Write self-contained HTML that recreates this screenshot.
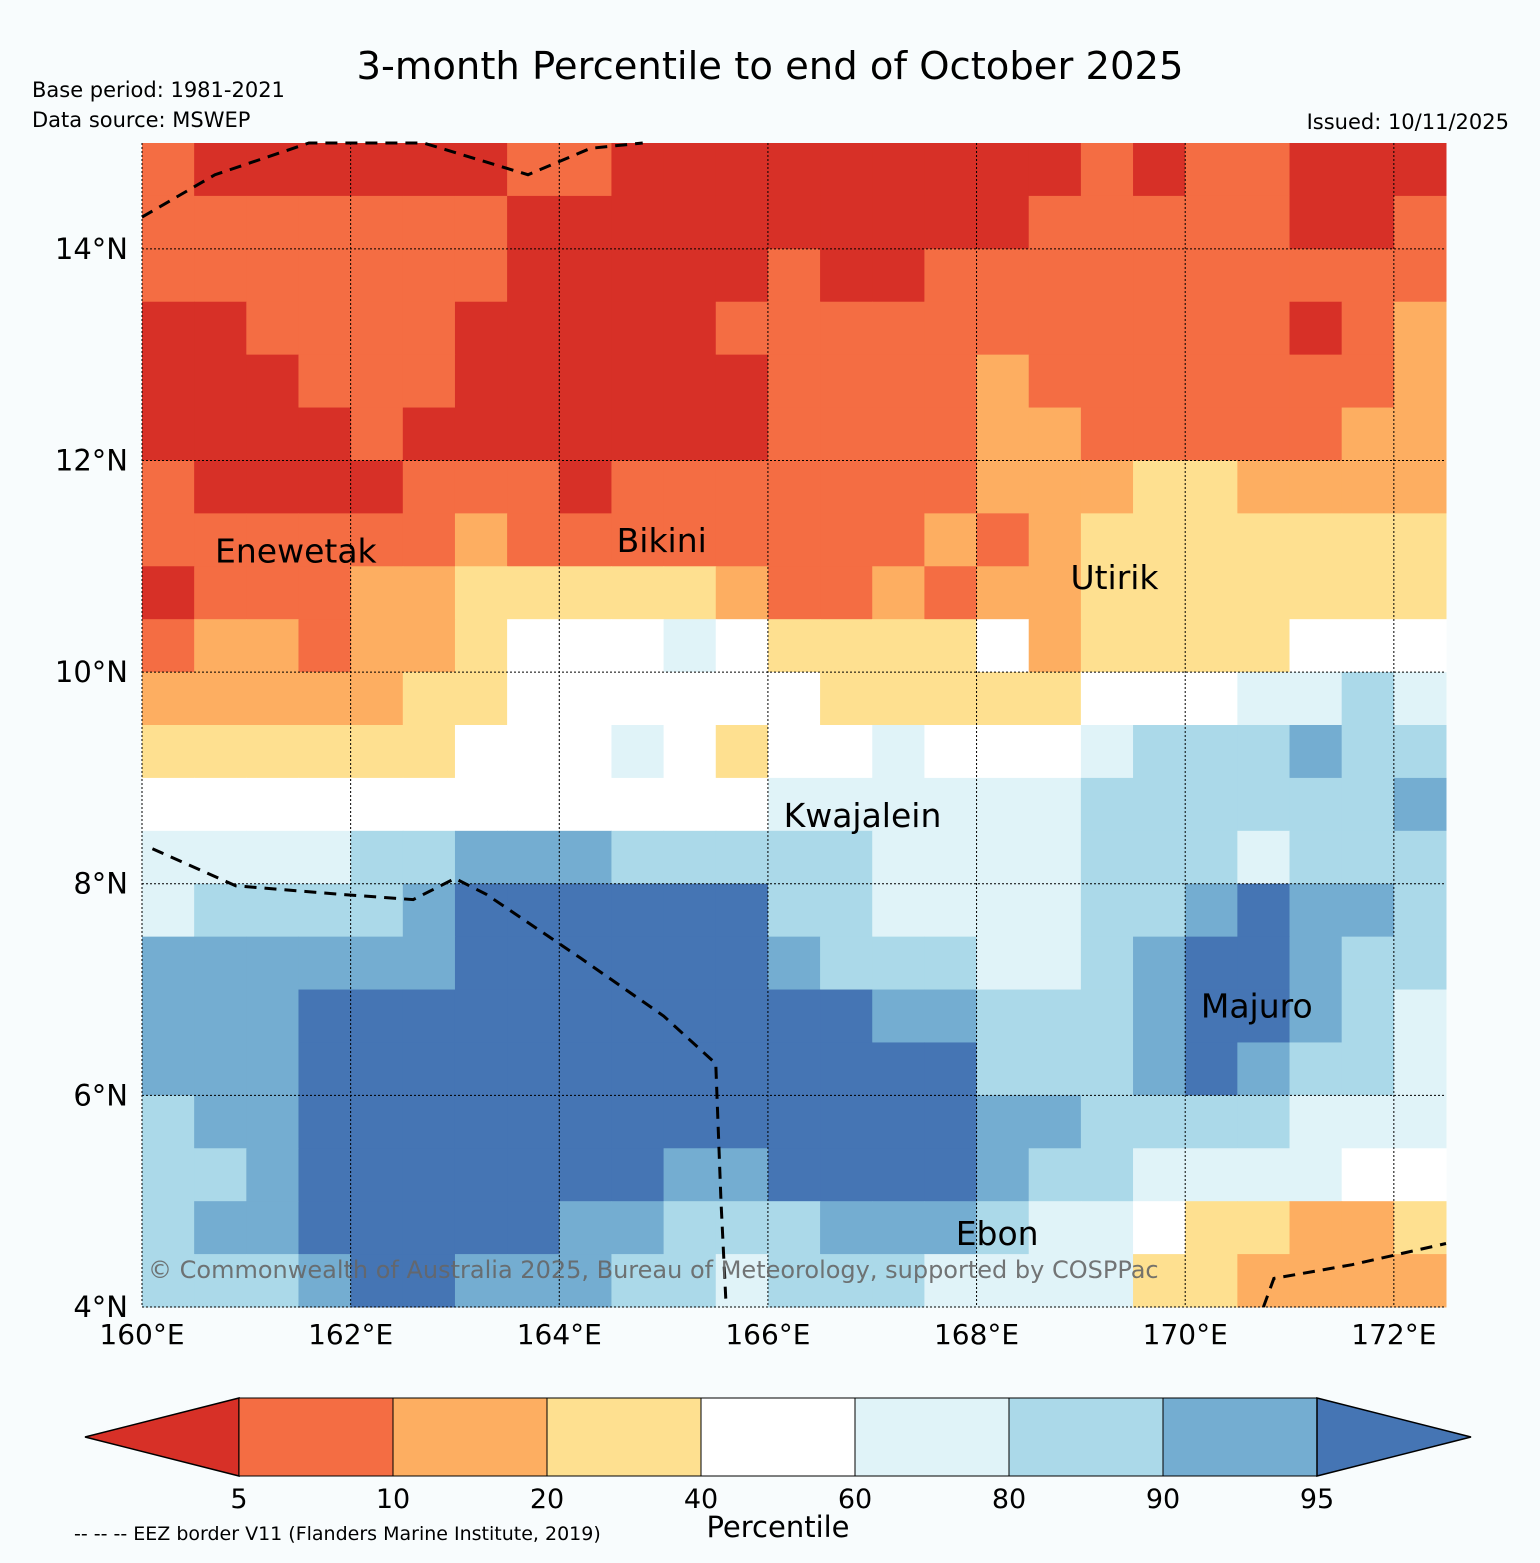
<!DOCTYPE html>
<html><head><meta charset="utf-8">
<style>
body{margin:0;background:#f8fcfd;}
svg{display:block;font-family:"DejaVu Sans","Liberation Sans",sans-serif;}
</style></head>
<body>
<svg id="chart" width="1540" height="1563" viewBox="0 0 1540 1563">
<rect width="1540" height="1563" fill="#f8fcfd"/>
<text x="770" y="79" font-size="38.5" text-anchor="middle">3-month Percentile to end of October 2025</text>
<text x="32" y="97" font-size="21">Base period: 1981-2021</text>
<text x="32" y="127" font-size="21">Data source: MSWEP</text>
<text x="1509" y="129" font-size="21" text-anchor="end">Issued: 10/11/2025</text>
<g id="cells"></g>
<g id="grid"></g>
<g id="eez"></g>
<g id="labels"></g>
<text x="148" y="1278" font-size="24" fill="#666" fill-opacity="0.9">© Commonwealth of Australia 2025, Bureau of Meteorology, supported by COSPPac</text>
<g id="axes"></g>
<g id="cbar"></g>
<text x="778" y="1537" font-size="29" text-anchor="middle">Percentile</text>
<text x="74" y="1540" font-size="19">-- -- -- EEZ border V11 (Flanders Marine Institute, 2019)</text>
</svg>
<script>
const colors=["#d73027","#f46d43","#fdae61","#fee090","#ffffff","#e0f3f8","#abd9e9","#74add1","#4575b4"];
const cbTicks=["5","10","20","40","60","80","90","95"];
const lonTicks=[160,162,164,166,168,170,172];
const latTicks=[4,6,8,10,12,14];
const islands=["Enewetak","Bikini","Utirik","Kwajalein","Majuro","Ebon"];
const islandLon=[160.7,164.55,168.9,166.15,170.15,167.8];
const islandLat=[11.15,11.25,10.9,8.65,6.85,4.7];
// rows from lat 15 (top) down to 4 in 0.5 deg steps, cols from lon 160 to 172.5
const grid=[
[1,0,0,0,0,0,0,1,1,0,0,0,0,0,0,0,0,0,1,0,1,1,0,0,0],
[1,1,1,1,1,1,1,0,0,0,0,0,0,0,0,0,0,1,1,1,1,1,0,0,1],
[1,1,1,1,1,1,1,0,0,0,0,0,1,0,0,1,1,1,1,1,1,1,1,1,1],
[0,0,1,1,1,1,0,0,0,0,0,1,1,1,1,1,1,1,1,1,1,1,0,1,2],
[0,0,0,1,1,1,0,0,0,0,0,0,1,1,1,1,2,1,1,1,1,1,1,1,2],
[0,0,0,0,1,0,0,0,0,0,0,0,1,1,1,1,2,2,1,1,1,1,1,2,2],
[1,0,0,0,0,1,1,1,0,1,1,1,1,1,1,1,2,2,2,3,3,2,2,2,2],
[1,1,1,1,1,1,2,1,1,1,1,1,1,1,1,2,1,2,3,3,3,3,3,3,3],
[0,1,1,1,2,2,3,3,3,3,3,2,1,1,2,1,2,2,3,3,3,3,3,3,3],
[1,2,2,1,2,2,3,4,4,4,5,4,3,3,3,3,4,2,3,3,3,3,4,4,4],
[2,2,2,2,2,3,3,4,4,4,4,4,4,3,3,3,3,3,4,4,4,5,5,6,5],
[3,3,3,3,3,3,4,4,4,5,4,3,4,4,5,4,4,4,5,6,6,6,7,6,6],
[4,4,4,4,4,4,4,4,4,4,4,4,5,5,5,5,5,5,6,6,6,6,6,6,7],
[5,5,5,5,6,6,7,7,7,6,6,6,6,6,5,5,5,5,6,6,6,5,6,6,6],
[5,6,6,6,6,7,8,8,8,8,8,8,6,6,5,5,5,5,6,6,7,8,7,7,6],
[7,7,7,7,7,7,8,8,8,8,8,8,7,6,6,6,5,5,6,7,8,8,7,6,6],
[7,7,7,8,8,8,8,8,8,8,8,8,8,8,7,7,6,6,6,7,8,8,7,6,5],
[7,7,7,8,8,8,8,8,8,8,8,8,8,8,8,8,6,6,6,7,8,7,6,6,5],
[6,7,7,8,8,8,8,8,8,8,8,8,8,8,8,8,7,7,6,6,6,6,5,5,5],
[6,6,7,8,8,8,8,8,8,8,7,7,8,8,8,8,7,6,6,5,5,5,5,4,4],
[6,7,7,8,8,8,8,8,7,7,6,6,6,7,7,7,6,5,5,4,3,3,2,2,3],
[6,6,6,7,8,8,7,7,7,6,6,5,6,6,6,5,5,5,5,3,3,2,2,2,2]];
const eezA=[[160,14.3],[160.7,14.7],[161.6,15],[162.7,15],[163.7,14.7],[164.3,14.95],[164.8,15]];
const eezB=[[160.1,8.33],[160.9,7.98],[161.9,7.9],[162.6,7.85],[163.0,8.05],[163.3,7.9],[164.2,7.3],[165.0,6.75],[165.5,6.3],[165.55,5.0],[165.6,4.0]];
const eezC=[[170.75,4.0],[170.85,4.27],[171.6,4.4],[172.5,4.6]];
const NS="http://www.w3.org/2000/svg";
const X0=142,X1=1446,Y0=143,Y1=1307;
const xs=lon=>X0+(lon-160)*(X1-X0)/12.5;
const ys=lat=>Y1-(lat-4)*(Y1-Y0)/11;
function mk(tag,attrs,parent){const e=document.createElementNS(NS,tag);for(const k in attrs)e.setAttribute(k,attrs[k]);parent.appendChild(e);return e;}
const cells=document.getElementById('cells');
grid.forEach((row,r)=>row.forEach((v,c)=>{
  const lat=15-r*0.5, lon=160+c*0.5;
  const x=xs(lon),y=ys(lat);
  const e=mk('rect',{x:x,y:y,width:xs(lon+0.5)-x+0.5,height:ys(lat-0.5)-y+0.5,fill:colors[v]},cells);
  
  
}));
const g=document.getElementById('grid');
lonTicks.forEach(l=>{const e=mk('line',{x1:xs(l),x2:xs(l),y1:Y0,y2:Y1,stroke:'#000','stroke-width':1,'stroke-dasharray':'2,2'},g);
  });
latTicks.forEach(l=>{const e=mk('line',{x1:X0,x2:X1,y1:ys(l),y2:ys(l),stroke:'#000','stroke-width':1,'stroke-dasharray':'2,2'},g);
  });
const ez=document.getElementById('eez');
[eezA,eezB,eezC].forEach(p=>{const e=mk('polyline',{points:p.map(q=>xs(q[0])+','+ys(q[1])).join(' '),fill:'none',stroke:'#000','stroke-width':3,'stroke-dasharray':'12,8'},ez);
  });
const lb=document.getElementById('labels');
islands.forEach((n,i)=>{const e=mk('text',{x:xs(islandLon[i]),y:ys(islandLat[i])+12,'font-size':33},lb);e.textContent=n;
  });
const ax=document.getElementById('axes');
lonTicks.forEach(l=>{const e=mk('text',{x:xs(l),y:1344,'font-size':28,'text-anchor':'middle'},ax);e.textContent=l+'°E';
  });
latTicks.forEach(l=>{const e=mk('text',{x:128,y:ys(l)+10,'font-size':29,'text-anchor':'end'},ax);e.textContent=l+'°N';
  });
const cb=document.getElementById('cbar');
const cbx=[239,393,547,701,855,1009,1163,1317];
const cy0=1398,cy1=1476;
let t=mk('polygon',{points:`85,1437 239,${cy0} 239,${cy1}`,fill:colors[0],stroke:'#000','stroke-width':1.5},cb);

for(let i=0;i<7;i++){const e=mk('rect',{x:cbx[i],y:cy0,width:cbx[i+1]-cbx[i],height:cy1-cy0,fill:colors[i+1],stroke:'#000','stroke-width':1},cb);
  }
t=mk('polygon',{points:`1317,${cy0} 1471,1437 1317,${cy1}`,fill:colors[8],stroke:'#000','stroke-width':1.5},cb);

cbTicks.forEach((s,i)=>{const e=mk('text',{x:cbx[i],y:1508,'font-size':27,'text-anchor':'middle'},cb);e.textContent=s;
  });
</script>
</body></html>
